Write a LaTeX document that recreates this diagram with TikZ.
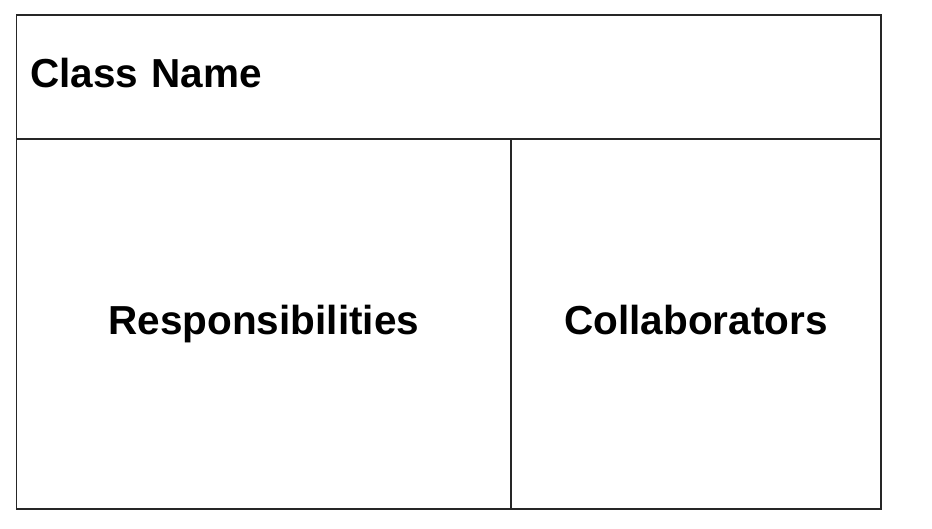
\documentclass[tikz,border=0pt]{standalone}
\usepackage{fontspec}
\setmainfont{Liberation Sans}
\usetikzlibrary{positioning}

\begin{document}
\begin{tikzpicture}[x=1pt,y=1pt,node distance=0pt,
line width=1.8pt, font=\fontsize{40.5}{48}\selectfont\bfseries]

\tikzstyle{every cell}=[rectangle, draw=black!85, fill=none, text=black, inner sep=0pt,
outer sep=0pt, text height=29pt, text depth=8.5pt]

\useasboundingbox (0,0) rectangle (932,529);

%header
\node[every cell, minimum width=864.5pt, minimum height=124pt,
text width=837.5pt, inner xsep=13.5pt, align=left, anchor=north west]
(header) at (16.5,514)
{Class Name};

\node[every cell, minimum width=494.5pt, minimum height=370pt]
(resp) [below right=0pt of header.south west]
{Responsibilities};

\node[every cell, minimum width=370pt, minimum height=370pt]
(collab) [right=0pt of resp]
{Collaborators};

\end{tikzpicture}
\end{document}
